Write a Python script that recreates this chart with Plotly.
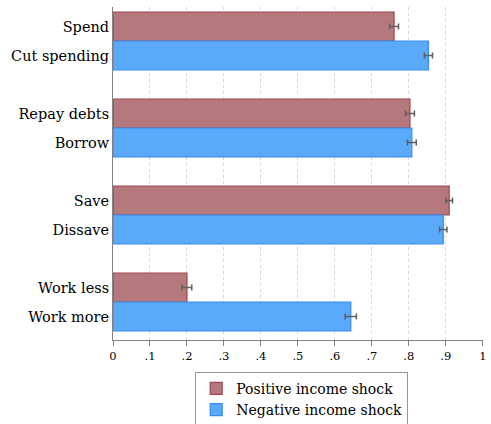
import plotly.graph_objects as go

pos_labels = ["Spend", "Repay debts", "Save", "Work less"]
neg_labels = ["Cut spending", "Borrow", "Dissave", "Work more"]
pos_values = [0.760, 0.803, 0.909, 0.200]
neg_values = [0.853, 0.808, 0.893, 0.643]
pos_err = [0.012, 0.012, 0.009, 0.013]
neg_err = [0.011, 0.012, 0.010, 0.015]
pos_y = [0.5, 3.5, 6.5, 9.5]
neg_y = [1.5, 4.5, 7.5, 10.5]
tick_vals = [0, 0.1, 0.2, 0.3, 0.4, 0.5, 0.6, 0.7, 0.8, 0.9, 1.0]
tick_text = ["0", ".1", ".2", ".3", ".4", ".5", ".6", ".7", ".8", ".9", "1"]

font = "DejaVu Serif"

fig = go.Figure()
fig.add_trace(go.Bar(
    name="Positive income shock", orientation="h", x=pos_values, y=pos_y, width=1.0,
    marker=dict(color="rgb(181,121,125)", line=dict(color="rgb(160,70,78)", width=1.2)),
    error_x=dict(type="data", array=pos_err, color="rgb(95,95,95)", thickness=1.5, width=3),
))
fig.add_trace(go.Bar(
    name="Negative income shock", orientation="h", x=neg_values, y=neg_y, width=1.0,
    marker=dict(color="rgb(90,169,250)", line=dict(color="rgb(55,140,240)", width=1.2)),
    error_x=dict(type="data", array=neg_err, color="rgb(95,95,95)", thickness=1.5, width=3),
))

fig.update_layout(
    width=491, height=424,
    margin=dict(l=113, r=5, t=7, b=84),
    plot_bgcolor="white", paper_bgcolor="white",
    font=dict(family=font, color="black"),
    barmode="overlay",
    showlegend=True,
    legend=dict(
        x=0.51, xanchor="center", yref="container", y=0.123, yanchor="top",
        bordercolor="rgb(150,150,150)", borderwidth=1,
        font=dict(size=14, family=font), traceorder="normal",
        itemwidth=30, tracegroupgap=0,
    ),
    xaxis=dict(
        range=[0, 1.0005], tickvals=tick_vals, ticktext=tick_text,
        showgrid=True, gridcolor="rgb(215,215,215)", griddash="dot", gridwidth=1,
        showline=True, linecolor="rgb(130,130,130)", linewidth=1,
        ticks="outside", ticklen=5, tickcolor="rgb(130,130,130)",
        tickfont=dict(size=11.5, family=font), zeroline=False,
    ),
    yaxis=dict(
        range=[11.31, -0.172],
        tickvals=pos_y + neg_y, ticktext=pos_labels + neg_labels,
        showgrid=False, showline=True, linecolor="rgb(130,130,130)", linewidth=1,
        ticks="", ticklen=0, tickfont=dict(size=14.5, family=font), zeroline=False,
    ),
)

fig.write_html("out.html")
